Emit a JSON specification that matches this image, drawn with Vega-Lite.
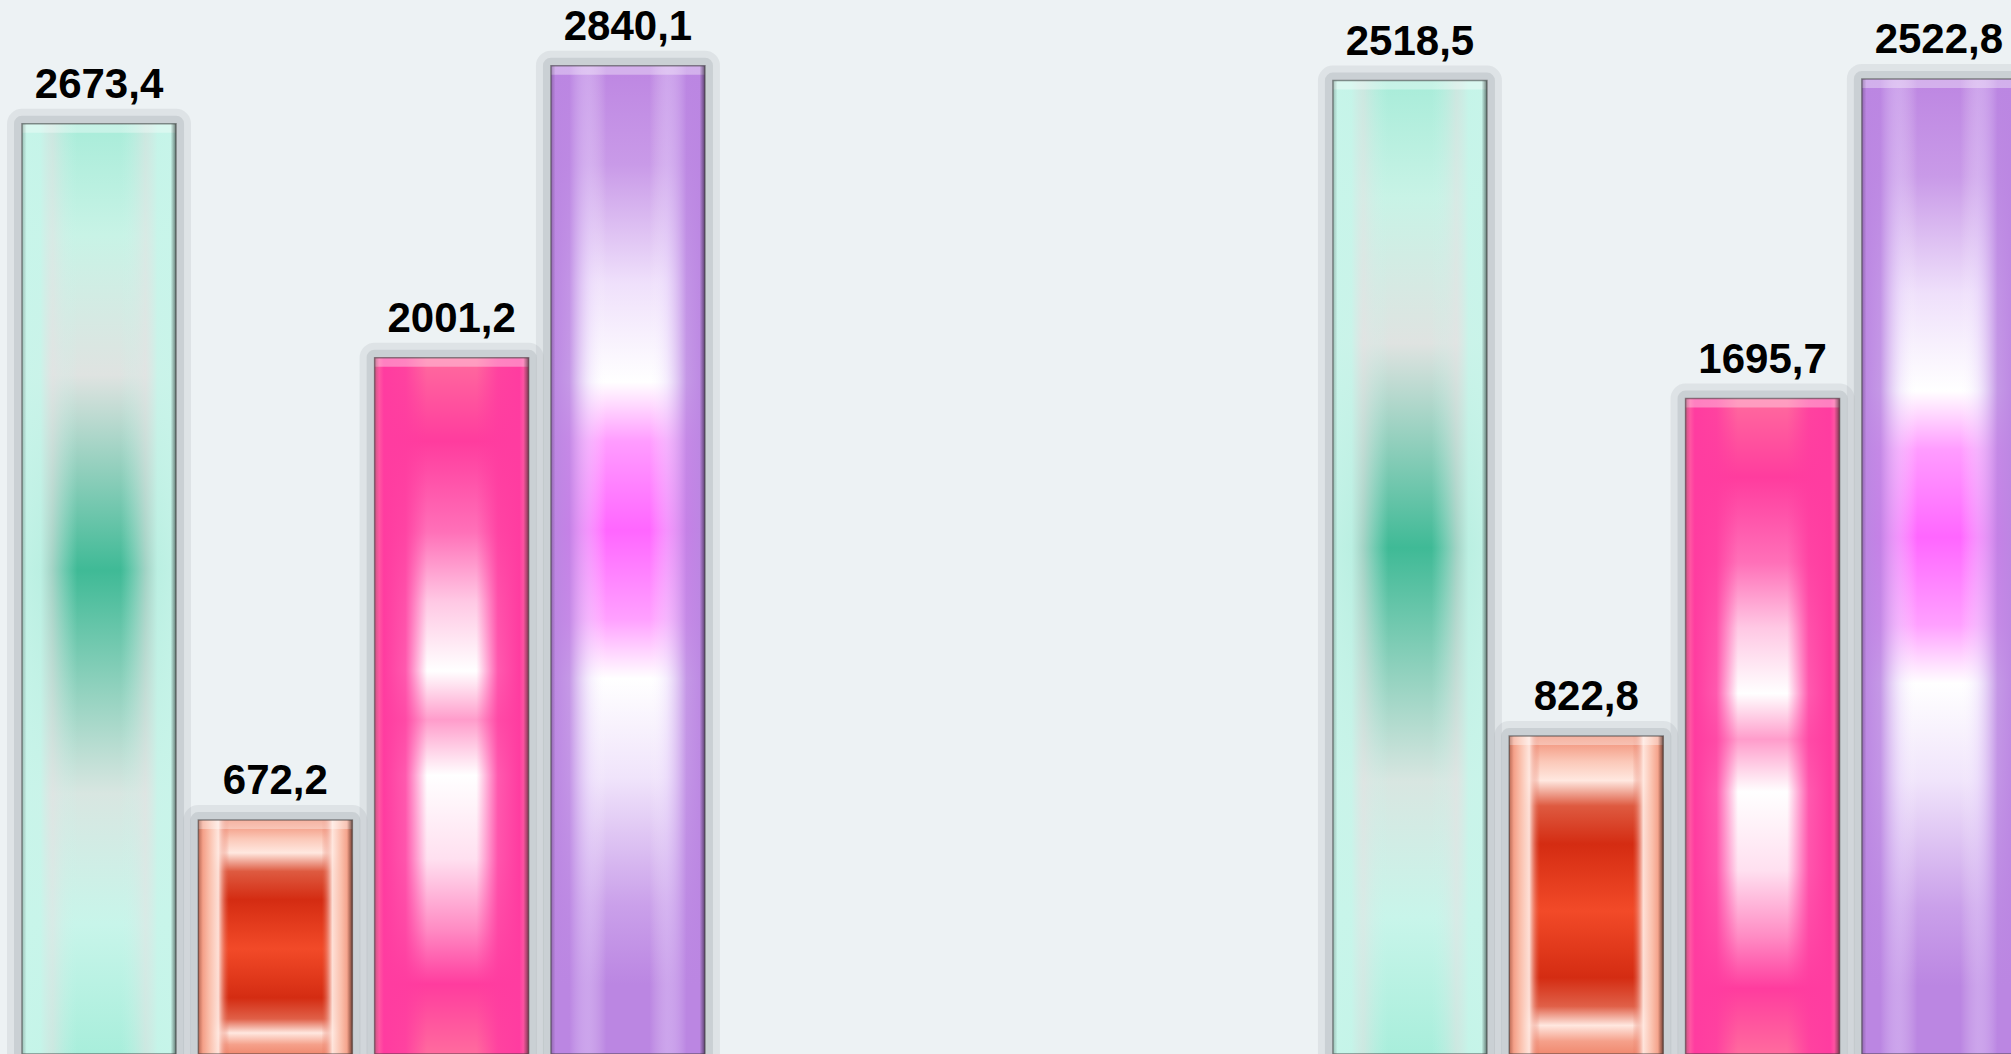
{
  "$schema": "https://vega.github.io/schema/vega-lite/v6.json",
  "width": 2011,
  "height": 1054,
  "autosize": "none",
  "padding": 0,
  "background": "#edf2f4",
  "config": {
    "view": {"stroke": null},
    "locale": {"number": {"decimal": ",", "thousands": " ", "grouping": [3], "currency": ["", ""]}}
  },
  "data": {
    "values": [
      {"group": "Группа 1", "series": "Ряд 1", "value": 2673.4},
      {"group": "Группа 1", "series": "Ряд 2", "value": 672.2},
      {"group": "Группа 1", "series": "Ряд 3", "value": 2001.2},
      {"group": "Группа 1", "series": "Ряд 4", "value": 2840.1},
      {"group": "Группа 2", "series": "Ряд 1", "value": 2518.5},
      {"group": "Группа 2", "series": "Ряд 2", "value": 822.8},
      {"group": "Группа 2", "series": "Ряд 3", "value": 1695.7},
      {"group": "Группа 2", "series": "Ряд 4", "value": 2522.8}
    ]
  },
  "encoding": {
    "x": {"field": "group", "type": "nominal", "axis": null, "scale": {"range": [10.85, 2027.05], "paddingInner": 0.462, "paddingOuter": 0}},
    "xOffset": {"field": "series", "type": "nominal", "scale": {"paddingInner": 0.1265, "paddingOuter": 0.0633}}
  },
  "layer": [
    {
      "transform": [{"filter": "datum.group === 'Группа 1'"}],
      "encoding": {"y": {"field": "value", "type": "quantitative", "axis": null, "scale": {"domain": [0, 3029]}}},
      "layer": [
        {"mark": {"type": "bar", "fill": "#7f878e", "fillOpacity": 0.0, "stroke": "#7f878e", "strokeOpacity": 0.13, "strokeWidth": 30, "strokeJoin": "round"}},
        {"mark": {"type": "bar", "fill": "#7f878e", "fillOpacity": 0.0, "stroke": "#7f878e", "strokeOpacity": 0.2, "strokeWidth": 16, "strokeJoin": "round"}},
        {"transform": [{"filter": "datum.series === 'Ряд 1'"}],
         "mark": {"type": "bar", "fill": {"gradient": "linear", "x1": 0, "y1": 0, "x2": 0, "y2": 1, "stops": [
           {"offset": 0, "color": "#a8ecd9"}, {"offset": 0.12, "color": "#c8f3e6"}, {"offset": 0.27, "color": "#dfe3e1"},
           {"offset": 0.48, "color": "#3fba96"}, {"offset": 0.72, "color": "#d8e6e1"}, {"offset": 0.86, "color": "#c8f5ea"}, {"offset": 1, "color": "#a8eedb"}]}}},
        {"transform": [{"filter": "datum.series === 'Ряд 1'"}],
         "mark": {"type": "bar", "fill": {"gradient": "linear", "x1": 0, "y1": 0, "x2": 1, "y2": 0, "stops": [
           {"offset": 0, "color": "rgba(200,245,234,0.95)"}, {"offset": 0.12, "color": "rgba(200,245,234,0.9)"}, {"offset": 0.2, "color": "rgba(226,228,228,0.6)"},
           {"offset": 0.36, "color": "rgba(200,245,234,0)"}, {"offset": 0.64, "color": "rgba(200,245,234,0)"},
           {"offset": 0.8, "color": "rgba(226,228,228,0.6)"}, {"offset": 0.88, "color": "rgba(200,245,234,0.9)"}, {"offset": 1, "color": "rgba(200,245,234,0.95)"}]}}},
        {"transform": [{"filter": "datum.series === 'Ряд 2'"}],
         "mark": {"type": "bar", "fill": {"gradient": "linear", "x1": 0, "y1": 0, "x2": 0, "y2": 1, "stops": [
           {"offset": 0, "color": "#f08a70"}, {"offset": 0.08, "color": "#fbc8b8"}, {"offset": 0.14, "color": "#ffe8e0"},
           {"offset": 0.22, "color": "#de5a40"}, {"offset": 0.34, "color": "#d42c12"}, {"offset": 0.55, "color": "#f24a28"},
           {"offset": 0.76, "color": "#d42c12"}, {"offset": 0.85, "color": "#e06048"}, {"offset": 0.91, "color": "#ffe8e0"},
           {"offset": 0.96, "color": "#f5a08a"}, {"offset": 1, "color": "#f08a70"}]}}},
        {"transform": [{"filter": "datum.series === 'Ряд 2'"}],
         "mark": {"type": "bar", "fill": {"gradient": "linear", "x1": 0, "y1": 0, "x2": 1, "y2": 0, "stops": [
           {"offset": 0, "color": "rgba(240,138,112,1)"}, {"offset": 0.07, "color": "rgba(250,190,170,1)"}, {"offset": 0.13, "color": "rgba(255,232,224,0.95)"},
           {"offset": 0.2, "color": "rgba(224,96,72,0)"}, {"offset": 0.8, "color": "rgba(224,96,72,0)"},
           {"offset": 0.87, "color": "rgba(255,232,224,0.95)"}, {"offset": 0.93, "color": "rgba(250,190,170,1)"}, {"offset": 1, "color": "rgba(240,138,112,1)"}]}}},
        {"transform": [{"filter": "datum.series === 'Ряд 3'"}],
         "mark": {"type": "bar", "fill": {"gradient": "linear", "x1": 0, "y1": 0, "x2": 0, "y2": 1, "stops": [
           {"offset": 0, "color": "#ff6b9e"}, {"offset": 0.12, "color": "#ff3c9e"}, {"offset": 0.25, "color": "#ff70b8"},
           {"offset": 0.35, "color": "#ffc8e4"}, {"offset": 0.45, "color": "#ffffff"}, {"offset": 0.52, "color": "#ff9ccb"},
           {"offset": 0.6, "color": "#ffffff"}, {"offset": 0.72, "color": "#ffe0f0"}, {"offset": 0.82, "color": "#ff8cc4"},
           {"offset": 0.9, "color": "#ff3c9e"}, {"offset": 1, "color": "#ff6b9e"}]}}},
        {"transform": [{"filter": "datum.series === 'Ряд 3'"}],
         "mark": {"type": "bar", "fill": {"gradient": "linear", "x1": 0, "y1": 0, "x2": 1, "y2": 0, "stops": [
           {"offset": 0, "color": "rgba(255,111,165,1)"}, {"offset": 0.06, "color": "rgba(255,60,160,1)"}, {"offset": 0.2, "color": "rgba(255,60,160,0.85)"},
           {"offset": 0.34, "color": "rgba(255,60,160,0)"}, {"offset": 0.66, "color": "rgba(255,60,160,0)"},
           {"offset": 0.8, "color": "rgba(255,60,160,0.85)"}, {"offset": 0.94, "color": "rgba(255,60,160,1)"}, {"offset": 1, "color": "rgba(255,111,165,1)"}]}}},
        {"transform": [{"filter": "datum.series === 'Ряд 4'"}],
         "mark": {"type": "bar", "fill": {"gradient": "linear", "x1": 0, "y1": 0, "x2": 0, "y2": 1, "stops": [
           {"offset": 0, "color": "#bd86e2"}, {"offset": 0.1, "color": "#c99ae8"}, {"offset": 0.22, "color": "#efe0fb"},
           {"offset": 0.32, "color": "#ffffff"}, {"offset": 0.38, "color": "#ff9cff"}, {"offset": 0.47, "color": "#ff66ff"},
           {"offset": 0.56, "color": "#ffa0ff"}, {"offset": 0.62, "color": "#ffffff"}, {"offset": 0.72, "color": "#f0e4fb"},
           {"offset": 0.85, "color": "#caa0ea"}, {"offset": 0.93, "color": "#bb86e2"}, {"offset": 1, "color": "#bb86e2"}]}}},
        {"transform": [{"filter": "datum.series === 'Ряд 4'"}],
         "mark": {"type": "bar", "fill": {"gradient": "linear", "x1": 0, "y1": 0, "x2": 1, "y2": 0, "stops": [
           {"offset": 0, "color": "rgba(187,134,226,1)"}, {"offset": 0.12, "color": "rgba(187,134,226,0.85)"}, {"offset": 0.25, "color": "rgba(230,210,250,0.4)"},
           {"offset": 0.36, "color": "rgba(255,255,255,0)"}, {"offset": 0.64, "color": "rgba(255,255,255,0)"},
           {"offset": 0.75, "color": "rgba(230,210,250,0.4)"}, {"offset": 0.88, "color": "rgba(187,134,226,0.85)"}, {"offset": 1, "color": "rgba(187,134,226,1)"}]}}},
        {"mark": {"type": "bar", "fill": "#ffffff", "fillOpacity": 0.35, "y2Offset": 9}, "encoding": {"y2": {"field": "value"}}},
        {"mark": {"type": "bar", "stroke": "#3c3c3c", "strokeWidth": 1.5, "strokeOpacity": 0.55, "fill": {"gradient": "linear", "x1": 0, "y1": 0, "x2": 1, "y2": 0, "stops": [
           {"offset": 0, "color": "rgba(0,0,0,0.22)"}, {"offset": 0.03, "color": "rgba(0,0,0,0)"}, {"offset": 0.965, "color": "rgba(0,0,0,0)"}, {"offset": 1, "color": "rgba(0,0,0,0.5)"}]}}},
        {"mark": {"type": "text", "font": "Liberation Sans", "fontWeight": "bold", "fontSize": 42, "color": "#000000", "baseline": "alphabetic", "align": "center", "dy": -26},
         "encoding": {"text": {"field": "value", "type": "quantitative", "format": ".1f"}}}
      ]
    },
    {
      "transform": [{"filter": "datum.group === 'Группа 2'"}],
      "encoding": {"y": {"field": "value", "type": "quantitative", "axis": null, "scale": {"domain": [0, 2727]}}},
      "layer": [
        {"mark": {"type": "bar", "fill": "#7f878e", "fillOpacity": 0.0, "stroke": "#7f878e", "strokeOpacity": 0.13, "strokeWidth": 30, "strokeJoin": "round"}},
        {"mark": {"type": "bar", "fill": "#7f878e", "fillOpacity": 0.0, "stroke": "#7f878e", "strokeOpacity": 0.2, "strokeWidth": 16, "strokeJoin": "round"}},
        {"transform": [{"filter": "datum.series === 'Ряд 1'"}],
         "mark": {"type": "bar", "fill": {"gradient": "linear", "x1": 0, "y1": 0, "x2": 0, "y2": 1, "stops": [
           {"offset": 0, "color": "#a8ecd9"}, {"offset": 0.12, "color": "#c8f3e6"}, {"offset": 0.27, "color": "#dfe3e1"},
           {"offset": 0.48, "color": "#3fba96"}, {"offset": 0.72, "color": "#d8e6e1"}, {"offset": 0.86, "color": "#c8f5ea"}, {"offset": 1, "color": "#a8eedb"}]}}},
        {"transform": [{"filter": "datum.series === 'Ряд 1'"}],
         "mark": {"type": "bar", "fill": {"gradient": "linear", "x1": 0, "y1": 0, "x2": 1, "y2": 0, "stops": [
           {"offset": 0, "color": "rgba(200,245,234,0.95)"}, {"offset": 0.12, "color": "rgba(200,245,234,0.9)"}, {"offset": 0.2, "color": "rgba(226,228,228,0.6)"},
           {"offset": 0.36, "color": "rgba(200,245,234,0)"}, {"offset": 0.64, "color": "rgba(200,245,234,0)"},
           {"offset": 0.8, "color": "rgba(226,228,228,0.6)"}, {"offset": 0.88, "color": "rgba(200,245,234,0.9)"}, {"offset": 1, "color": "rgba(200,245,234,0.95)"}]}}},
        {"transform": [{"filter": "datum.series === 'Ряд 2'"}],
         "mark": {"type": "bar", "fill": {"gradient": "linear", "x1": 0, "y1": 0, "x2": 0, "y2": 1, "stops": [
           {"offset": 0, "color": "#f08a70"}, {"offset": 0.08, "color": "#fbc8b8"}, {"offset": 0.14, "color": "#ffe8e0"},
           {"offset": 0.22, "color": "#de5a40"}, {"offset": 0.34, "color": "#d42c12"}, {"offset": 0.55, "color": "#f24a28"},
           {"offset": 0.76, "color": "#d42c12"}, {"offset": 0.85, "color": "#e06048"}, {"offset": 0.91, "color": "#ffe8e0"},
           {"offset": 0.96, "color": "#f5a08a"}, {"offset": 1, "color": "#f08a70"}]}}},
        {"transform": [{"filter": "datum.series === 'Ряд 2'"}],
         "mark": {"type": "bar", "fill": {"gradient": "linear", "x1": 0, "y1": 0, "x2": 1, "y2": 0, "stops": [
           {"offset": 0, "color": "rgba(240,138,112,1)"}, {"offset": 0.07, "color": "rgba(250,190,170,1)"}, {"offset": 0.13, "color": "rgba(255,232,224,0.95)"},
           {"offset": 0.2, "color": "rgba(224,96,72,0)"}, {"offset": 0.8, "color": "rgba(224,96,72,0)"},
           {"offset": 0.87, "color": "rgba(255,232,224,0.95)"}, {"offset": 0.93, "color": "rgba(250,190,170,1)"}, {"offset": 1, "color": "rgba(240,138,112,1)"}]}}},
        {"transform": [{"filter": "datum.series === 'Ряд 3'"}],
         "mark": {"type": "bar", "fill": {"gradient": "linear", "x1": 0, "y1": 0, "x2": 0, "y2": 1, "stops": [
           {"offset": 0, "color": "#ff6b9e"}, {"offset": 0.12, "color": "#ff3c9e"}, {"offset": 0.25, "color": "#ff70b8"},
           {"offset": 0.35, "color": "#ffc8e4"}, {"offset": 0.45, "color": "#ffffff"}, {"offset": 0.52, "color": "#ff9ccb"},
           {"offset": 0.6, "color": "#ffffff"}, {"offset": 0.72, "color": "#ffe0f0"}, {"offset": 0.82, "color": "#ff8cc4"},
           {"offset": 0.9, "color": "#ff3c9e"}, {"offset": 1, "color": "#ff6b9e"}]}}},
        {"transform": [{"filter": "datum.series === 'Ряд 3'"}],
         "mark": {"type": "bar", "fill": {"gradient": "linear", "x1": 0, "y1": 0, "x2": 1, "y2": 0, "stops": [
           {"offset": 0, "color": "rgba(255,111,165,1)"}, {"offset": 0.06, "color": "rgba(255,60,160,1)"}, {"offset": 0.2, "color": "rgba(255,60,160,0.85)"},
           {"offset": 0.34, "color": "rgba(255,60,160,0)"}, {"offset": 0.66, "color": "rgba(255,60,160,0)"},
           {"offset": 0.8, "color": "rgba(255,60,160,0.85)"}, {"offset": 0.94, "color": "rgba(255,60,160,1)"}, {"offset": 1, "color": "rgba(255,111,165,1)"}]}}},
        {"transform": [{"filter": "datum.series === 'Ряд 4'"}],
         "mark": {"type": "bar", "fill": {"gradient": "linear", "x1": 0, "y1": 0, "x2": 0, "y2": 1, "stops": [
           {"offset": 0, "color": "#bd86e2"}, {"offset": 0.1, "color": "#c99ae8"}, {"offset": 0.22, "color": "#efe0fb"},
           {"offset": 0.32, "color": "#ffffff"}, {"offset": 0.38, "color": "#ff9cff"}, {"offset": 0.47, "color": "#ff66ff"},
           {"offset": 0.56, "color": "#ffa0ff"}, {"offset": 0.62, "color": "#ffffff"}, {"offset": 0.72, "color": "#f0e4fb"},
           {"offset": 0.85, "color": "#caa0ea"}, {"offset": 0.93, "color": "#bb86e2"}, {"offset": 1, "color": "#bb86e2"}]}}},
        {"transform": [{"filter": "datum.series === 'Ряд 4'"}],
         "mark": {"type": "bar", "fill": {"gradient": "linear", "x1": 0, "y1": 0, "x2": 1, "y2": 0, "stops": [
           {"offset": 0, "color": "rgba(187,134,226,1)"}, {"offset": 0.12, "color": "rgba(187,134,226,0.85)"}, {"offset": 0.25, "color": "rgba(230,210,250,0.4)"},
           {"offset": 0.36, "color": "rgba(255,255,255,0)"}, {"offset": 0.64, "color": "rgba(255,255,255,0)"},
           {"offset": 0.75, "color": "rgba(230,210,250,0.4)"}, {"offset": 0.88, "color": "rgba(187,134,226,0.85)"}, {"offset": 1, "color": "rgba(187,134,226,1)"}]}}},
        {"mark": {"type": "bar", "fill": "#ffffff", "fillOpacity": 0.35, "y2Offset": 9}, "encoding": {"y2": {"field": "value"}}},
        {"mark": {"type": "bar", "stroke": "#3c3c3c", "strokeWidth": 1.5, "strokeOpacity": 0.55, "fill": {"gradient": "linear", "x1": 0, "y1": 0, "x2": 1, "y2": 0, "stops": [
           {"offset": 0, "color": "rgba(0,0,0,0.22)"}, {"offset": 0.03, "color": "rgba(0,0,0,0)"}, {"offset": 0.965, "color": "rgba(0,0,0,0)"}, {"offset": 1, "color": "rgba(0,0,0,0.5)"}]}}},
        {"mark": {"type": "text", "font": "Liberation Sans", "fontWeight": "bold", "fontSize": 42, "color": "#000000", "baseline": "alphabetic", "align": "center", "dy": -26},
         "encoding": {"text": {"field": "value", "type": "quantitative", "format": ".1f"}}}
      ]
    }
  ],
  "resolve": {"scale": {"y": "independent"}}
}
